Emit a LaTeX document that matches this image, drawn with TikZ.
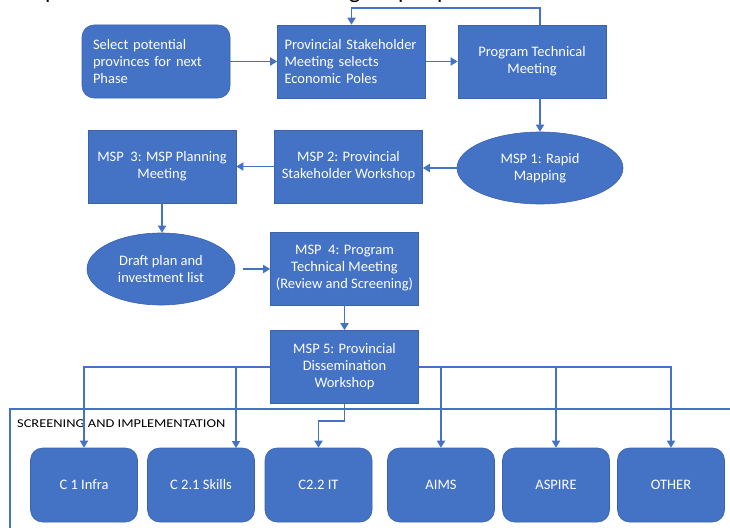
\documentclass[tikz,border=0pt]{standalone}
\usepackage{fontspec}
\setmainfont{Carlito}
\usetikzlibrary{arrows.meta,shapes.geometric,calc}

\definecolor{boxblue}{HTML}{4472C4}
\definecolor{edgeblue}{HTML}{3A63AE}
\definecolor{linkblue}{HTML}{4472C4}

\tikzset{
  base/.style={draw=edgeblue, line width=0.6pt, fill=boxblue, text=white,
    inner sep=0pt, font=\fontsize{14.5}{17}\selectfont, align=center},
  sqbox/.style={base, rectangle, minimum width=148pt, minimum height=73pt},
  rbox/.style={base, rectangle, rounded corners=12pt, minimum width=148pt, minimum height=73pt},
  oval/.style={base, ellipse, minimum width=166pt, minimum height=72pt},
  unit/.style={base, rectangle, rounded corners=12pt, minimum width=107pt, minimum height=74pt},
  link/.style={draw=linkblue, line width=1.7pt, -{Triangle[length=7pt,width=8pt]}},
  frame/.style={draw=linkblue, line width=1.1pt},
  caption/.style={text=black, inner sep=0pt, font=\fontsize{24}{28}\selectfont}
}

\begin{document}
\begin{tikzpicture}[x=1pt, y=-1pt]
  \useasboundingbox (0,0) rectangle (730,527);
  \clip (0,0) rectangle (730,527);
  \fill[white] (0,0) rectangle (730,527);

  % descenders of the heading line above the chart
  \node[caption, anchor=base west] (hd1) at (45,-1) {p};
  \node[caption, anchor=base west] (hd2) at (349,-1) {g};
  \node[caption, anchor=base west] (hd3) at (398,-1) {p};
  \node[caption, anchor=base west] (hd4) at (437,-1) {p};

  % screening and implementation panel
  \draw[frame] (10,409) rectangle (745,545);
  \node[anchor=base west, inner sep=0pt, font=\fontsize{12}{14}\selectfont]
    (panel) at (17,427) {\scalebox{1.2}[1]{SCREENING AND IMPLEMENTATION}};

  % top row
  \node[rbox, text width=126pt, align=left] (sel) at (156,61.5)
    {Select potential\\provinces for next\\Phase};
  \node[sqbox, text width=134pt, align=left] (psm) at (351.5,61.5)
    {Provincial Stakeholder\\Meeting selects\\Economic Poles};
  \node[sqbox] (ptm) at (532,61.5) {Program Technical\\Meeting};

  % second row
  \node[oval] (msp1) at (540,168) {MSP 1: Rapid\\Mapping};
  \node[sqbox] (msp2) at (348.5,166.5) {MSP 2: Provincial\\Stakeholder Workshop};
  \node[sqbox] (msp3) at (162,166.5) {MSP\ \ 3: MSP Planning\\Meeting};

  % third row
  \node[oval, minimum width=148pt] (draft) at (161,269) {Draft plan and\\investment list};
  \node[sqbox] (msp4) at (344.5,268.5) {MSP\ \ 4: Program\\Technical Meeting\\(Review and Screening)};
  \node[sqbox] (msp5) at (344.5,367) {MSP 5: Provincial\\Dissemination\\Workshop};

  % programme components
  \node[unit] (c1)  at (84,485)    {C 1 Infra};
  \node[unit] (c21) at (201,485)   {C 2.1 Skills};
  \node[unit] (c22) at (318.5,485) {C2.2 IT};
  \node[unit] (aims) at (441,485)  {AIMS};
  \node[unit] (asp) at (556,485)   {ASPIRE};
  \node[unit] (oth) at (671,485)   {OTHER};

  % flow between steps
  \draw[link] (sel.east) -- (psm.west);
  \draw[link] (psm.east) -- (ptm.west);
  \coordinate (loop) at (351.5,8);
  \draw[link] ([xshift=8pt]ptm.north) |- (loop) -- (psm.north);
  \draw[link] ([xshift=8pt]ptm.south) -- (msp1.north);
  \draw[link] (msp1.west) -- (msp1.west -| msp2.east);
  \draw[link] (msp2.west) -- (msp3.east);
  \draw[link] (msp3.south) -- (msp3.south |- draft.north);
  \draw[link] ([xshift=8pt]draft.east) -- (draft.east -| msp4.west);
  \draw[link] (msp4.south) -- (msp5.north);

  % distribution to the components
  \coordinate (skills) at (236,448);
  \coordinate (kink) at (344.5,421);
  \draw[link] (msp5.west) -| (c1.north);
  \draw[link] (msp5.west) -| (skills);
  \draw[link] (msp5.south) -- (kink) -| (c22.north);
  \draw[link] (msp5.east) -| (aims.north);
  \draw[link] (msp5.east) -| (asp.north);
  \draw[link] (msp5.east) -| (oth.north);
\end{tikzpicture}
\end{document}
